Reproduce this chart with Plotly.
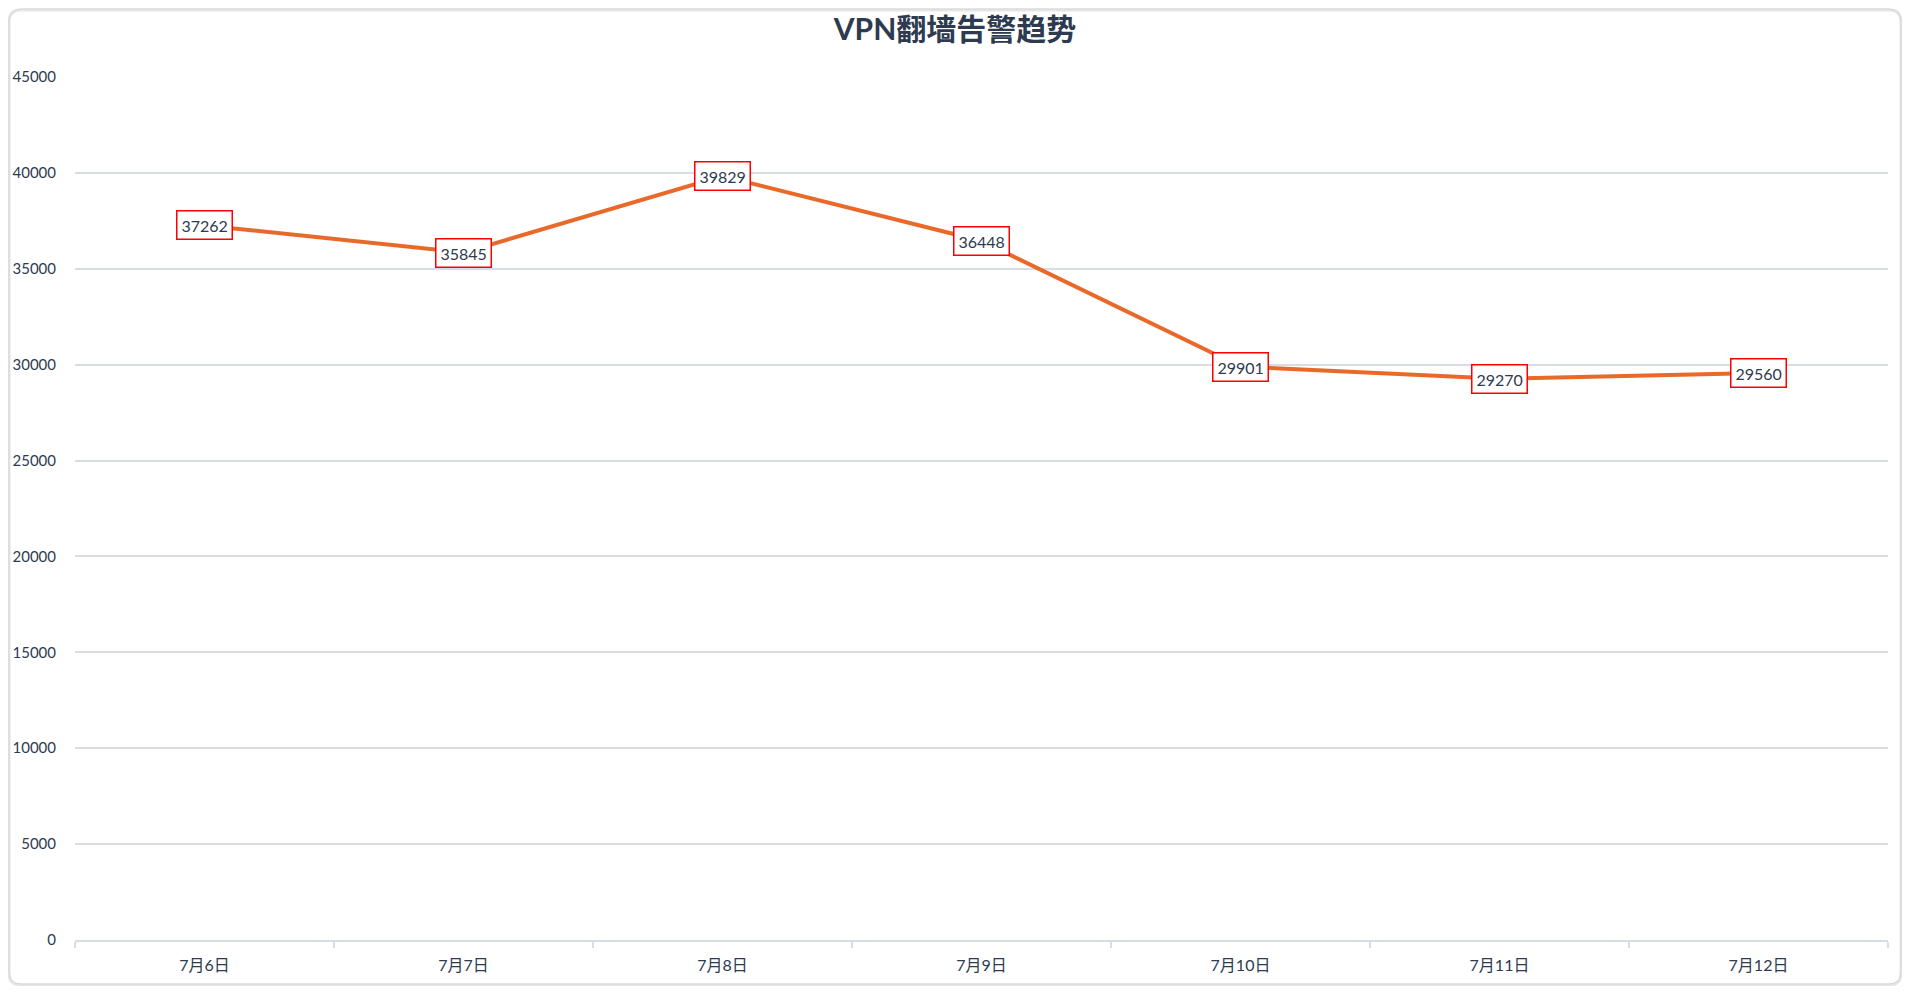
import plotly.graph_objects as go

# data
dates = ["7月6日", "7月7日", "7月8日", "7月9日", "7月10日", "7月11日", "7月12日"]
alerts = [37262, 35845, 39829, 36448, 29901, 29270, 29560]
y_ticks = [0, 5000, 10000, 15000, 20000, 25000, 30000, 35000, 40000, 45000]

TITLE = "VPN翻墙告警趋势"
FONT = "Lato, 'Noto Sans CJK SC', sans-serif"
TEXT_COLOR = "#2d3a4f"
GRID_COLOR = "#d9dde3"
LINE_COLOR = "#e8692a"

W, H = 1894, 978
ML, MR, MT, MB = 67, 14, 69, 46
PW, PH = W - ML - MR, H - MT - MB


def px_to_paper(x, y):
    return (x - ML) / PW, 1 - (y - MT) / PH


def rounded_rect(x0, y0, x1, y1, r):
    pts = [
        ("M", x0 + r, y0), ("L", x1 - r, y0), ("Q", x1, y0, x1, y0 + r),
        ("L", x1, y1 - r), ("Q", x1, y1, x1 - r, y1), ("L", x0 + r, y1),
        ("Q", x0, y1, x0, y1 - r), ("L", x0, y0 + r), ("Q", x0, y0, x0 + r, y0),
    ]
    out = []
    for p in pts:
        cmd = p[0]
        coords = p[1:]
        seg = []
        for i in range(0, len(coords), 2):
            px, py = px_to_paper(coords[i], coords[i + 1])
            seg.append(f"{px:.5f},{py:.5f}")
        out.append(cmd + " ".join(seg))
    return " ".join(out) + " Z"


fig = go.Figure()
fig.add_trace(
    go.Scatter(
        x=dates,
        y=alerts,
        mode="lines",
        line={"color": LINE_COLOR, "width": 4},
        hoverinfo="x+y",
    )
)

for d, v in zip(dates, alerts):
    fig.add_annotation(
        x=d,
        y=v,
        text=str(v),
        showarrow=False,
        bgcolor="white",
        bordercolor="#ff0000",
        borderwidth=1.5,
        borderpad=4,
        font={"family": FONT, "size": 16, "color": TEXT_COLOR},
    )

# card frame around the chart
fig.add_shape(
    type="path",
    xref="paper",
    yref="paper",
    path=rounded_rect(1, 2, W - 1, H - 1, 12),
    line={"color": "#e6e6e6", "width": 3},
    layer="below",
)
fig.add_shape(
    type="path",
    xref="paper",
    yref="paper",
    path=rounded_rect(1, 1, W - 1, H - 2, 12),
    line={"color": "#d6d6d6", "width": 1},
    layer="below",
)

fig.update_layout(
    width=W,
    height=H,
    margin={"l": ML, "r": MR, "t": MT, "b": MB},
    paper_bgcolor="white",
    plot_bgcolor="white",
    showlegend=False,
    font={"family": FONT, "size": 16, "color": TEXT_COLOR},
    title={
        "text": f"<b>{TITLE}</b>",
        "x": 0.5,
        "xref": "container",
        "xanchor": "center",
        "y": 1 - 21 / H,
        "yanchor": "middle",
        "font": {"family": FONT, "size": 30, "color": TEXT_COLOR},
    },
)

fig.update_xaxes(
    type="category",
    range=[-0.5, len(dates) - 0.5],
    automargin=False,
    tickson="boundaries",
    ticks="outside",
    ticklen=6,
    tickwidth=1.5,
    tickcolor=GRID_COLOR,
    showline=True,
    linecolor=GRID_COLOR,
    linewidth=2,
    showgrid=False,
    ticklabelstandoff=10,
    tickfont={"family": FONT, "size": 16, "color": TEXT_COLOR},
)
fig.update_yaxes(
    range=[0, 45000],
    automargin=False,
    tickvals=y_ticks,
    ticktext=[str(t) for t in y_ticks],
    showgrid=True,
    gridcolor=GRID_COLOR,
    gridwidth=1.5,
    zeroline=False,
    showline=False,
    ticklabelstandoff=18,
    tickfont={"family": FONT, "size": 15, "color": TEXT_COLOR},
)

fig.write_html("out.html")
